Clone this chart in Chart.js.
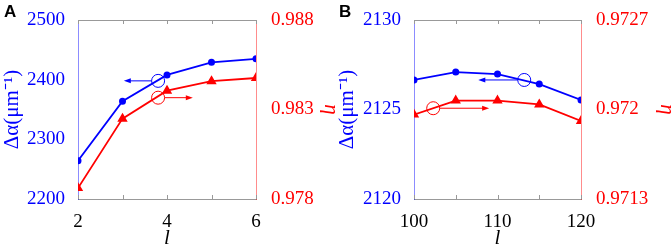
<!DOCTYPE html>
<html>
<head>
<meta charset="utf-8">
<script src="https://cdn.jsdelivr.net/npm/chart.js@4.4.0/dist/chart.umd.min.js"></script>
<style>
    body { margin: 0; background: #fff; width: 671px; height: 251px; overflow: hidden; position: relative; }
    canvas { position: absolute; top: 0; }
    .tag { position: absolute; font: bold 17px "Liberation Sans", Arial, sans-serif; color: #000; }
</style>
</head>
<body>
<canvas id="chartA" width="335" height="251" style="left:0"></canvas>
<canvas id="chartB" width="336" height="251" style="left:335px"></canvas>
<div class="tag" style="left:4px;top:2px">A</div>
<div class="tag" style="left:339px;top:2px">B</div>
<script>
// panel A data
var lA = [2, 3, 4, 5, 6];
var alphaA = [2264, 2364, 2408, 2429, 2435];
var etaA = [0.97861, 0.98249, 0.98405, 0.98458, 0.98476];
var xTicksA = [2, 3, 4, 5, 6];
var xLabelsA = [2, 4, 6];
var alphaTicksA = [2200, 2300, 2400, 2500];
var etaTicksA = [0.978, 0.983, 0.988];

// panel B data
var lB = [100, 105, 110, 115, 120];
var alphaB = [2126.65, 2127.09, 2126.98, 2126.42, 2125.53];
var etaB = [0.97196, 0.97207, 0.97207, 0.97204, 0.97191];
var xTicksB = [100, 105, 110, 115, 120];
var xLabelsB = [100, 110, 120];
var alphaTicksB = [2120, 2125, 2130];
var etaTicksB = [0.9713, 0.972, 0.9727];

// circle + arrow notes (data coords): which axis, circle x/y, arrow end x
var notesA = [
    { axis: 'yL', x: 3.8, y: 2398, to: 3.03 },
    { axis: 'yR', x: 3.8, y: 0.98366, to: 4.58 }
];
var notesB = [
    { axis: 'yL', x: 113.2, y: 2126.65, to: 107.7 },
    { axis: 'yR', x: 102.3, y: 0.97201, to: 109 }
];

var BLUE = 'rgb(0,0,255)', RED = 'rgb(255,0,0)';
var SERIF = '"Liberation Serif", "Times New Roman", serif';

// inward tick marks on top/bottom frame, plus the circle/arrow notes
var marksPlugin = {
    id: 'marks',
    afterDatasetsDraw: function (chart, args, opts) {
        var ctx = chart.ctx, area = chart.chartArea, sx = chart.scales.x;
        ctx.save();
        ctx.strokeStyle = '#999';
        ctx.lineWidth = 1;
        opts.ticks.forEach(function (v) {
            var px = Math.round(sx.getPixelForValue(v)) + 0.5;
            ctx.beginPath();
            ctx.moveTo(px, area.bottom); ctx.lineTo(px, area.bottom - 4);
            ctx.moveTo(px, area.top); ctx.lineTo(px, area.top + 4);
            ctx.stroke();
        });
        opts.notes.forEach(function (n) {
            var color = n.axis === 'yL' ? BLUE : RED;
            var cx = sx.getPixelForValue(n.x), cy = chart.scales[n.axis].getPixelForValue(n.y);
            var ex = sx.getPixelForValue(n.to), r = 6.5;
            var dir = ex > cx ? 1 : -1;
            ctx.strokeStyle = color;
            ctx.fillStyle = color;
            ctx.lineWidth = 1;
            ctx.beginPath();
            ctx.arc(cx, cy, r, 0, Math.PI * 2);
            ctx.stroke();
            ctx.beginPath();
            ctx.moveTo(cx + dir * r, cy);
            ctx.lineTo(ex - dir * 5, cy);
            ctx.stroke();
            ctx.beginPath();
            ctx.moveTo(ex, cy);
            ctx.lineTo(ex - dir * 7, cy - 2.5);
            ctx.lineTo(ex - dir * 7, cy + 2.5);
            ctx.closePath();
            ctx.fill();
        });
        ctx.restore();
    }
};

function makeChart(id, set) {
    var toPts = function (ys) {
        return set.l.map(function (x, i) { return { x: x, y: ys[i] }; });
    };
    var fixTicks = function (arr) {
        return function (scale) { scale.ticks = arr.map(function (v) { return { value: v }; }); };
    };
    var tickFont = { family: SERIF, size: 19 };
    var xmin = set.l[0], xmax = set.l[set.l.length - 1];

    return new Chart(document.getElementById(id), {
        type: 'line',
        data: {
            datasets: [{
                data: toPts(set.alpha),
                yAxisID: 'yL',
                borderColor: BLUE, backgroundColor: BLUE,
                borderWidth: 1.8, pointStyle: 'circle', pointRadius: 2.6,
                clip: 0
            }, {
                data: toPts(set.eta),
                yAxisID: 'yR',
                borderColor: RED, backgroundColor: RED,
                borderWidth: 1.8, pointStyle: 'triangle', pointRadius: 4.2,
                clip: 0
            }]
        },
        options: {
            responsive: false,
            animation: false,
            layout: { padding: { top: 20, left: 0, right: 0, bottom: 0 } },
            plugins: {
                legend: { display: false },
                tooltip: { enabled: false },
                marks: { ticks: set.xTicks, notes: set.notes }
            },
            scales: {
                x: {
                    type: 'linear', position: 'bottom', min: xmin, max: xmax,
                    afterBuildTicks: fixTicks(set.xTicks),
                    ticks: {
                        font: tickFont, color: '#000', padding: 4, maxRotation: 0, autoSkip: false,
                        callback: function (v) { return set.xLabels.indexOf(v) >= 0 ? String(v) : ''; }
                    },
                    grid: { display: false },
                    border: { color: '#999', width: 1 },
                    title: {
                        display: true, text: 'l', color: '#000',
                        font: { family: SERIF, size: 21, style: 'italic' },
                        padding: { top: 0, bottom: 0 }
                    },
                    afterFit: function (s) { s.height = 52; }
                },
                xTop: {
                    type: 'linear', position: 'top', min: xmin, max: xmax,
                    ticks: { display: false },
                    grid: { display: false },
                    border: { color: '#999', width: 1 },
                    afterFit: function (s) { s.height = 0; }
                },
                yL: {
                    type: 'linear', position: 'left',
                    min: set.alphaTicks[0], max: set.alphaTicks[set.alphaTicks.length - 1],
                    afterBuildTicks: fixTicks(set.alphaTicks),
                    ticks: {
                        font: tickFont, color: BLUE, padding: 5,
                        callback: function (v) { return String(v); }
                    },
                    grid: { display: false },
                    border: { color: 'rgba(0,0,255,0.45)', width: 1 },
                    title: {
                        display: true, text: 'Δα(μm⁻¹)', color: BLUE,
                        font: { family: SERIF, size: 21, lineHeight: 1.1 },
                        padding: { top: 1, bottom: 0 }
                    },
                    afterFit: function (s) { s.width = set.leftW; }
                },
                yR: {
                    type: 'linear', position: 'right',
                    min: set.etaTicks[0], max: set.etaTicks[set.etaTicks.length - 1],
                    afterBuildTicks: fixTicks(set.etaTicks),
                    ticks: {
                        font: tickFont, color: RED, padding: 7,
                        callback: function (v) { return String(+v.toFixed(4)); }
                    },
                    grid: { display: false },
                    border: { color: 'rgba(255,0,0,0.45)', width: 1 },
                    title: {
                        display: true, text: 'η', color: RED,
                        font: { family: SERIF, size: 21, style: 'italic', lineHeight: 0.4 },
                        padding: { top: 0, bottom: 0 }
                    },
                    afterFit: function (s) { s.width = set.rightW; }
                }
            }
        },
        plugins: [marksPlugin]
    });
}

makeChart('chartA', {
    l: lA, alpha: alphaA, eta: etaA,
    xTicks: xTicksA, xLabels: xLabelsA,
    alphaTicks: alphaTicksA, etaTicks: etaTicksA,
    notes: notesA, leftW: 78, rightW: 79
});
makeChart('chartB', {
    l: lB, alpha: alphaB, eta: etaB,
    xTicks: xTicksB, xLabels: xLabelsB,
    alphaTicks: alphaTicksB, etaTicks: etaTicksB,
    notes: notesB, leftW: 79, rightW: 90
});
</script>
</body>
</html>
